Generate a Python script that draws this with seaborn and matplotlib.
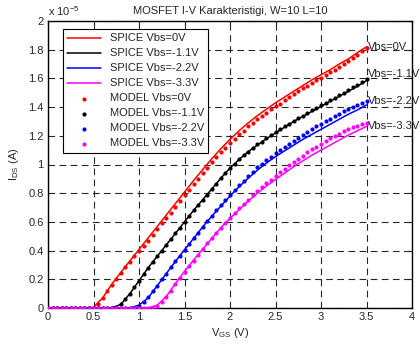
import numpy as np
import pandas as pd
import matplotlib
matplotlib.use('Agg')
import matplotlib.pyplot as plt
import seaborn as sns
from matplotlib.ticker import FuncFormatter

# Vgs sweeps (V)
vgs_spice = np.linspace(0, 3.5, 36)
vgs_model = np.linspace(0, 3.5, 71)

# SPICE drain current, in units of 1e-5 A
spice_0 = [0, 0, 0, 0, 0, 0.005, 0.07, 0.165, 0.248, 0.328, 0.408, 0.488, 0.568, 0.648, 0.728,
           0.808, 0.888, 0.965, 1.04, 1.11, 1.175, 1.235, 1.29, 1.34, 1.385, 1.43, 1.47, 1.51,
           1.55, 1.59, 1.625, 1.66, 1.70, 1.735, 1.78, 1.82]
spice_11 = [0, 0, 0, 0, 0, 0, 0, 0, 0.025, 0.10, 0.19, 0.28, 0.36, 0.44, 0.52, 0.60, 0.68,
            0.755, 0.83, 0.905, 0.975, 1.035, 1.09, 1.135, 1.18, 1.22, 1.26, 1.30, 1.335,
            1.37, 1.405, 1.44, 1.475, 1.51, 1.545, 1.585]
spice_22 = [0, 0, 0, 0, 0, 0, 0, 0, 0, 0, 0.02, 0.07, 0.155, 0.24, 0.325, 0.405, 0.485,
            0.565, 0.64, 0.71, 0.78, 0.845, 0.905, 0.96, 1.01, 1.055, 1.095, 1.135, 1.175,
            1.21, 1.245, 1.28, 1.315, 1.35, 1.38, 1.415]
spice_33 = [0, 0, 0, 0, 0, 0, 0, 0, 0, 0, 0, 0, 0.02, 0.08, 0.17, 0.255, 0.335, 0.41, 0.485,
            0.56, 0.625, 0.685, 0.745, 0.80, 0.85, 0.895, 0.94, 0.985, 1.025, 1.065, 1.10,
            1.135, 1.17, 1.205, 1.235, 1.265]

# MODEL drain current, in units of 1e-5 A
model_0 = [0] * 10 + [
    0.0, 0.03, 0.07, 0.115, 0.16, 0.205, 0.245, 0.285, 0.32, 0.36, 0.395, 0.435, 0.47, 0.51,
    0.55, 0.59, 0.63, 0.665, 0.705, 0.745, 0.785, 0.825, 0.865, 0.90, 0.94, 0.975, 1.015,
    1.05, 1.085, 1.115, 1.15, 1.18, 1.21, 1.235, 1.265, 1.29, 1.315, 1.34, 1.36, 1.385,
    1.405, 1.425, 1.45, 1.47, 1.49, 1.51, 1.53, 1.55, 1.57, 1.59, 1.605, 1.625, 1.645,
    1.66, 1.68, 1.70, 1.72, 1.74, 1.765, 1.79, 1.815]
model_11 = [0] * 15 + [
    0.0, 0.025, 0.06, 0.10, 0.145, 0.19, 0.235, 0.28, 0.32, 0.36, 0.40, 0.44, 0.48, 0.52,
    0.56, 0.60, 0.64, 0.68, 0.715, 0.755, 0.79, 0.83, 0.865, 0.905, 0.94, 0.975, 1.005,
    1.04, 1.065, 1.09, 1.115, 1.14, 1.16, 1.185, 1.205, 1.225, 1.245, 1.265, 1.285, 1.305,
    1.325, 1.34, 1.36, 1.38, 1.395, 1.415, 1.43, 1.45, 1.465, 1.485, 1.50, 1.52, 1.54,
    1.555, 1.575, 1.595]
model_22 = [0] * 19 + [
    0.0, 0.015, 0.04, 0.075, 0.115, 0.155, 0.20, 0.24, 0.285, 0.325, 0.365, 0.405, 0.445,
    0.485, 0.525, 0.565, 0.605, 0.64, 0.68, 0.715, 0.75, 0.785, 0.82, 0.855, 0.885, 0.92,
    0.95, 0.98, 1.005, 1.03, 1.055, 1.08, 1.10, 1.125, 1.145, 1.165, 1.185, 1.205, 1.225,
    1.245, 1.265, 1.28, 1.30, 1.315, 1.335, 1.35, 1.37, 1.385, 1.40, 1.415, 1.43, 1.44]
model_33 = [0] * 23 + [
    0.0, 0.015, 0.04, 0.075, 0.12, 0.165, 0.21, 0.25, 0.29, 0.33, 0.37, 0.41, 0.45, 0.485,
    0.525, 0.56, 0.595, 0.63, 0.66, 0.695, 0.725, 0.755, 0.785, 0.815, 0.84, 0.87, 0.895,
    0.92, 0.945, 0.97, 0.995, 1.015, 1.04, 1.06, 1.085, 1.105, 1.125, 1.145, 1.165, 1.185,
    1.20, 1.215, 1.23, 1.245, 1.26, 1.27, 1.28, 1.29]

vbs_names = ['0V', '-1.1V', '-2.2V', '-3.3V']
colors = ['red', 'black', 'blue', 'magenta']
label_y = [1.82, 1.63, 1.44, 1.27]

spice = [spice_0, spice_11, spice_22, spice_33]
model = [model_0, model_11, model_22, model_33]

sns.set_style('white')
plt.rcParams['font.family'] = ['Liberation Sans', 'DejaVu Sans']
plt.rcParams['mathtext.fontset'] = 'custom'
plt.rcParams['mathtext.rm'] = 'Liberation Sans'

fig = plt.figure(figsize=(4.2, 3.44), dpi=100)
ax = fig.add_axes([48 / 420, 1 - 308 / 344, 364 / 420, 287 / 344])

for ys, c, n in zip(spice, colors, vbs_names):
    sns.lineplot(x=vgs_spice, y=ys, color=c, lw=1.1, label=f'SPICE Vbs={n}', ax=ax)
for ys, c, n in zip(model, colors, vbs_names):
    sns.scatterplot(x=vgs_model, y=ys, color=c, s=9, marker='o', linewidth=0,
                    label=f'MODEL Vbs={n}', ax=ax, zorder=3)

for ly, n in zip(label_y, vbs_names):
    ax.text(3.52, ly, f'Vbs={n}', fontsize=8, ha='left', va='center', clip_on=False)

ax.set_xlim(0, 4)
ax.set_ylim(0, 2)
ax.set_xticks(np.arange(0, 4.01, 0.5))
ax.set_yticks(np.arange(0, 2.01, 0.2))
fmt = FuncFormatter(lambda v, p: f'{v:g}')
ax.xaxis.set_major_formatter(fmt)
ax.yaxis.set_major_formatter(fmt)
ax.tick_params(direction='in', length=3, width=0.8, top=True, right=True,
               labelsize=8, pad=3)
ax.grid(True, color='0.15', linestyle=(0, (6, 4)), linewidth=0.8)
for s in ax.spines.values():
    s.set_color('black')
    s.set_linewidth(1.0)

ax.set_title('MOSFET I-V Karakteristigi, W=10 L=10', fontsize=8, pad=5)
ax.set_xlabel(r'$\mathrm{V_{GS}}$ (V)', fontsize=8, labelpad=3)
ax.set_ylabel(r'$\mathrm{I_{DS}}$ (A)', fontsize=8, labelpad=5)
ax.text(0, 1.01, r'x 10$^{-5}$', transform=ax.transAxes, fontsize=8,
        ha='left', va='bottom')

leg = ax.legend(loc='upper left', bbox_to_anchor=(0.041, 0.972), borderaxespad=0,
                fontsize=8, handlelength=3.0, labelspacing=0.45, fancybox=False,
                edgecolor='black', framealpha=1, markerscale=1.0)
leg.get_frame().set_linewidth(0.8)

fig.savefig('out.png', dpi=100)
